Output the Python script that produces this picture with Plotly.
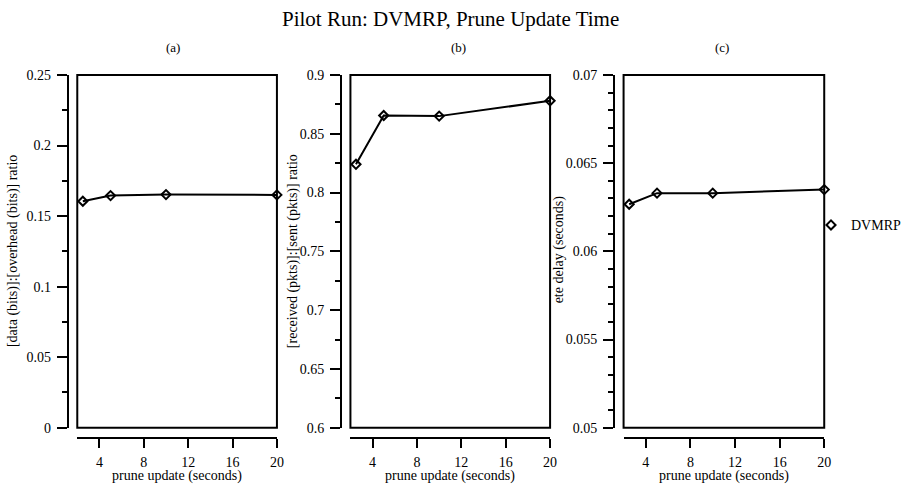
import plotly.graph_objects as go

W, H = 907, 485

# ---- data ----
prune_update = [2.5, 5, 10, 20]
overhead_ratio = [0.1605, 0.1645, 0.1652, 0.165]
received_ratio = [0.824, 0.8655, 0.865, 0.878]
ete_delay = [0.06267, 0.0633, 0.0633, 0.0635]

x_ticks = [4, 8, 12, 16, 20]
series_name = "DVMRP"
title_text = "Pilot Run: DVMRP, Prune Update Time"
panel_labels = ["(a)", "(b)", "(c)"]
y_titles = ["[data (bits)]:[overhead (bits)] ratio",
            "[received (pkts)]:[sent (pkts)] ratio",
            "ete delay (seconds)"]
x_title = "prune update (seconds)"

FONT = "Liberation Serif, Times New Roman, serif"

# map target picture pixels to paper fractions (calibrated to the rendered frame)
def px(x):
    return (x - 1.2) / 893.0

def py(y):
    return 1 - (y - 5.5) / 470.3

# panel geometry (target pixels)
boxes = [(79, 280), (354, 555), (629, 831)]
yaxis_px = [69.5, 344.5, 619.5]
top, bottom = 73.5, 426.5
xaxis_line_y = 436.5

yranges = [(0, 0.25), (0.6, 0.9), (0.05, 0.07)]
ydticks = [0.05, 0.05, 0.005]
yminor = [0.025, 0.025, 0.001]
ydata = [overhead_ratio, received_ratio, ete_delay]
ytitle_x = [15, 297, 564]
ytitle_y = [250, 250, 248]
label_x = [175, 463, 728]

fig = go.Figure()
layout = dict(
    width=W, height=H,
    margin=dict(l=0, r=0, t=0, b=0),
    paper_bgcolor="white", plot_bgcolor="white",
    font=dict(family=FONT, color="black", size=14),
    showlegend=True,
)
shapes = []
annotations = []

def ann(text, x, y, size, angle=0):
    return dict(text=text, x=px(x), y=py(y), xref="paper", yref="paper",
                xanchor="center", yanchor="middle", showarrow=False,
                textangle=angle, font=dict(family=FONT, size=size))

for i in range(3):
    xa = "xaxis" if i == 0 else f"xaxis{i+1}"
    ya = "yaxis" if i == 0 else f"yaxis{i+1}"
    xr = "x" if i == 0 else f"x{i+1}"
    yr = "y" if i == 0 else f"y{i+1}"
    x0, x1 = boxes[i]
    layout[xa] = dict(
        domain=[px(x0), px(x1)], range=[2, 20],
        anchor="free", position=py(xaxis_line_y),
        showline=True, linecolor="black", linewidth=2,
        ticks="outside", ticklen=9, tickwidth=2, tickcolor="black",
        tickvals=x_ticks, showgrid=False, zeroline=False,
        ticklabelstandoff=2,
        tickfont=dict(family=FONT, size=14),
    )
    layout[ya] = dict(
        domain=[py(bottom), py(top)], range=list(yranges[i]),
        anchor="free", position=px(yaxis_px[i]),
        showline=True, linecolor="black", linewidth=2,
        ticks="outside", ticklen=10, tickwidth=1.5, tickcolor="black",
        dtick=ydticks[i], tick0=yranges[i][0],
        minor=dict(dtick=yminor[i], tick0=yranges[i][0], ticks="outside",
                   ticklen=5, tickwidth=1.5, tickcolor="black", showgrid=False),
        showgrid=False, zeroline=False,
        ticklabelstandoff=3,
        tickfont=dict(family=FONT, size=14),
    )
    fig.add_trace(go.Scatter(
        x=prune_update, y=ydata[i], mode="lines+markers",
        line=dict(color="black", width=2),
        marker=dict(symbol="diamond-open", size=7, color="black",
                    line=dict(width=2, color="black")),
        xaxis=xr, yaxis=yr, showlegend=False, cliponaxis=False,
    ))
    shapes.append(dict(type="rect", xref=f"{xr} domain", yref=f"{yr} domain",
                       x0=0, x1=1, y0=0, y1=1,
                       line=dict(color="black", width=2), layer="below"))
    annotations.append(ann(panel_labels[i], label_x[i], 46, 13))
    annotations.append(ann(y_titles[i], ytitle_x[i], ytitle_y[i], 14, -90))
    annotations.append(ann(x_title, (x0 + x1) / 2, 475, 14))

annotations.append(ann(title_text, 455, 18, 21))

# legend-only entry
fig.add_trace(go.Scatter(
    x=[None], y=[None], mode="markers", name=series_name,
    marker=dict(symbol="diamond-open", size=7, color="black",
                line=dict(width=2, color="black")),
    xaxis="x3", yaxis="y3", showlegend=True,
))

layout["shapes"] = shapes
layout["annotations"] = annotations
layout["legend"] = dict(x=px(818), y=py(224), xanchor="left", yanchor="middle",
                        bgcolor="rgba(0,0,0,0)", font=dict(family=FONT, size=14))
fig.update_layout(**layout)
fig.write_html("out.html")
